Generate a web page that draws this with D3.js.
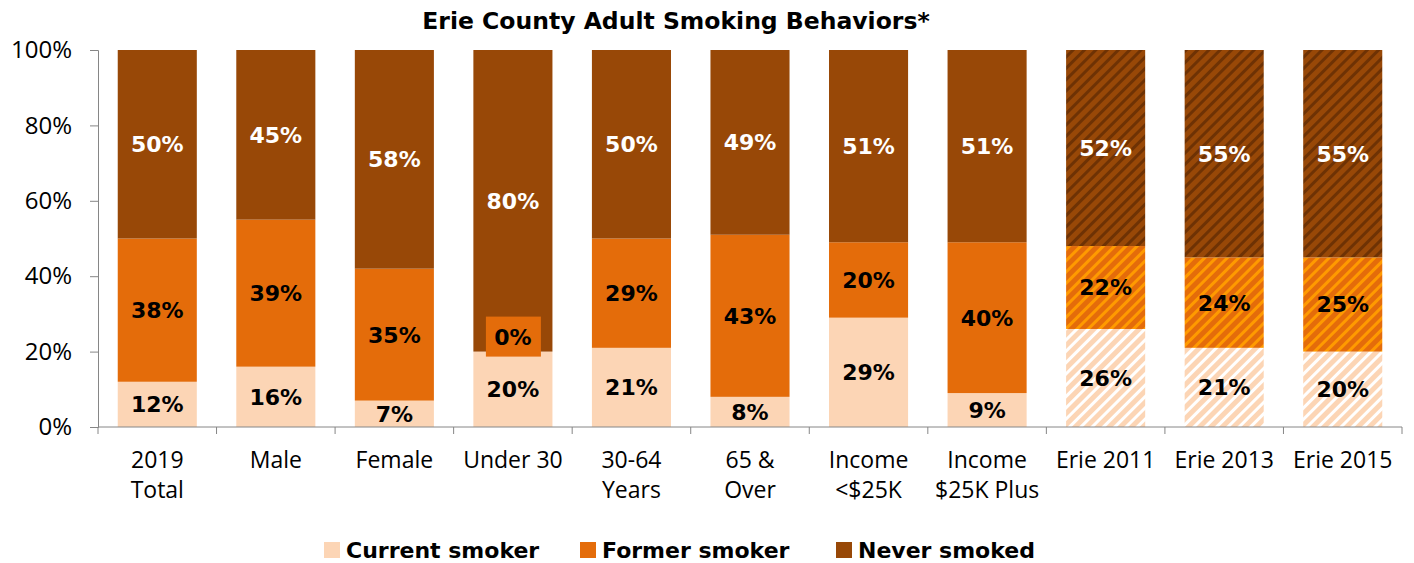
<!DOCTYPE html>
<html>
<head>
<meta charset="utf-8">
<script src="https://cdn.jsdelivr.net/npm/d3@7"></script>
<style>
  body { margin: 0; background: #fff; }
  svg { font-family: "Open Sans", "Noto Sans", sans-serif; }
  .bold { font-family: "DejaVu Sans", sans-serif; font-weight: bold; }
</style>
</head>
<body>
<svg id="chart" width="1414" height="563"></svg>
<script>
// Data
var categories = [["2019", "Total"], ["Male"], ["Female"], ["Under 30"], ["30-64", "Years"], ["65 &", "Over"],
                  ["Income", "<$25K"], ["Income", "$25K Plus"], ["Erie 2011"], ["Erie 2013"], ["Erie 2015"]];
var current = [12, 16, 7, 20, 21, 8, 29, 9, 26, 21, 20];
var former  = [38, 39, 35, 0, 29, 43, 20, 40, 22, 24, 25];
var never   = [50, 45, 58, 80, 50, 49, 51, 51, 52, 55, 55];
var hatched = [false, false, false, false, false, false, false, false, true, true, true];
var seriesNames = ["Current smoker", "Former smoker", "Never smoked"];
var yTicks = [0, 20, 40, 60, 80, 100];

var colors = ["#fcd5b5", "#e46c0a", "#984807"];
var stripeColors = ["#ffffff", "#ff9a00", "#6e3204"];
var labelColors = ["#000", "#000", "#fff"];

var svg = d3.select("#chart"),
    margin = {top: 50, right: 12, bottom: 136, left: 98},
    width = 1414 - margin.left - margin.right,
    height = 563 - margin.top - margin.bottom;

// hatch patterns for the Erie trend years
var defs = svg.append("defs");
colors.forEach(function(c, i) {
  var p = defs.append("pattern")
      .attr("id", "hatch" + i)
      .attr("patternUnits", "userSpaceOnUse")
      .attr("width", 8).attr("height", 8)
      .attr("patternTransform", "rotate(45)");
  p.append("rect").attr("width", 8).attr("height", 8).attr("fill", c);
  p.append("rect").attr("x", 0).attr("width", 3).attr("height", 8).attr("fill", stripeColors[i]);
});

var g = svg.append("g").attr("transform", "translate(" + margin.left + "," + margin.top + ")");

var x = d3.scaleBand().domain(d3.range(categories.length)).range([0, width]).paddingInner(0.333).paddingOuter(0.1665);
var y = d3.scaleLinear().domain([0, 100]).range([height, 0]);

var rows = categories.map(function(c, i) {
  return {i: i, current: current[i], former: former[i], never: never[i]};
});
var stack = d3.stack().keys(["current", "former", "never"])(rows);

// bars
stack.forEach(function(layer, k) {
  g.append("g").selectAll("rect")
    .data(layer)
    .join("rect")
      .attr("x", function(d) { return x(d.data.i); })
      .attr("y", function(d) { return y(d[1]); })
      .attr("width", x.bandwidth())
      .attr("height", function(d) { return y(d[0]) - y(d[1]); })
      .attr("fill", function(d) { return hatched[d.data.i] ? "url(#hatch" + k + ")" : colors[k]; });
});

// value labels
stack.forEach(function(layer, k) {
  var lg = g.append("g");
  layer.forEach(function(d) {
    var v = d[1] - d[0];
    var cx = x(d.data.i) + x.bandwidth() / 2;
    var cy = y((d[0] + d[1]) / 2);
    if (v === 0) {
      // zero segment gets a small filled box so the label stays readable
      cy = cy - 15;
      lg.append("rect")
        .attr("x", cx - 27).attr("y", cy - 20)
        .attr("width", 55).attr("height", 40)
        .attr("fill", colors[k]);
    }
    lg.append("text")
      .attr("class", "bold")
      .attr("x", cx).attr("y", cy)
      .attr("dy", "0.36em")
      .attr("text-anchor", "middle")
      .attr("font-size", 22)
      .attr("fill", labelColors[k])
      .text(v + "%");
  });
});

// y axis
var yAxis = g.append("g")
    .call(d3.axisLeft(y).tickValues(yTicks).tickFormat(function(d) { return d + "%"; }).tickSize(8).tickPadding(18));
yAxis.selectAll("text").attr("font-size", 24).attr("fill", "#000").attr("font-family", "'Open Sans', sans-serif");
yAxis.selectAll("line, path").attr("stroke", "#868686");

// x axis with ticks on band edges
var xg = g.append("g").attr("transform", "translate(0," + height + ")");
xg.append("line").attr("x1", 0).attr("x2", width).attr("stroke", "#868686");
xg.selectAll("line.tk")
  .data(d3.range(categories.length + 1))
  .join("line")
    .attr("class", "tk")
    .attr("x1", function(d) { return d * x.step(); })
    .attr("x2", function(d) { return d * x.step(); })
    .attr("y1", 0).attr("y2", 7)
    .attr("stroke", "#868686");
xg.selectAll("text")
  .data(categories)
  .join("text")
    .attr("text-anchor", "middle")
    .attr("font-size", 23)
    .attr("fill", "#000")
    .attr("transform", function(d, i) { return "translate(" + (x(i) + x.bandwidth() / 2) + ",41)"; })
    .selectAll("tspan")
    .data(function(d) { return d; })
    .join("tspan")
      .attr("x", 0)
      .attr("dy", function(d, j) { return j === 0 ? 0 : 30; })
      .text(function(d) { return d; });

// title
svg.append("text")
    .attr("class", "bold")
    .attr("x", 676).attr("y", 29)
    .attr("text-anchor", "middle")
    .attr("font-size", 23.5)
    .text("Erie County Adult Smoking Behaviors*");

// legend
var legendX = [324, 580, 836];
var legend = svg.append("g").attr("transform", "translate(0,550)");
seriesNames.forEach(function(name, i) {
  legend.append("rect")
    .attr("x", legendX[i]).attr("y", -8)
    .attr("width", 16).attr("height", 16)
    .attr("fill", colors[i]);
  legend.append("text")
    .attr("class", "bold")
    .attr("x", legendX[i] + 22).attr("y", 0)
    .attr("dy", "0.36em")
    .attr("font-size", 22)
    .text(name);
});
</script>
</body>
</html>
